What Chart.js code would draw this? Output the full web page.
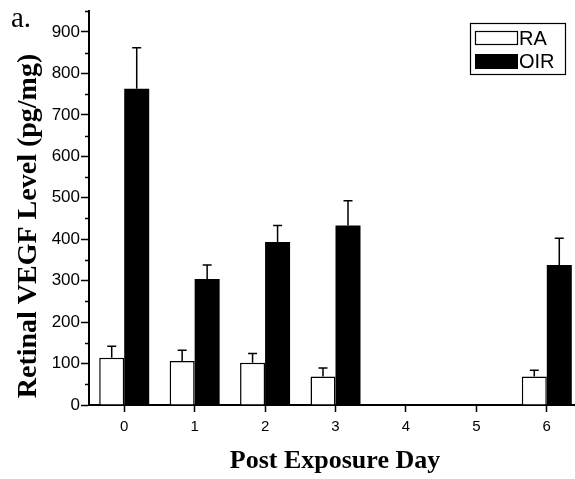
<!DOCTYPE html>
<html>
<head>
<meta charset="utf-8">
<script src="https://cdn.jsdelivr.net/npm/chart.js@4/dist/chart.umd.min.js"></script>
<style>
html,body{margin:0;padding:0;background:#fff;overflow:hidden;}
#wrap{width:575px;height:479px;overflow:hidden;position:relative;}
canvas{display:block;}
</style>
</head>
<body>
<div id="wrap"><canvas id="c" width="582" height="479"></canvas></div>
<script>
const days = ['0', '1', '2', '3', '4', '5', '6'];
const raValues = [114, 106, 102, 69, null, null, 69];
const raErrors = [28, 26, 22, 20, null, null, 15];
const oirValues = [763, 304, 393, 433, null, null, 338];
const oirErrors = [99, 34, 40, 60, null, null, 64];
const yTickValues = [0, 100, 200, 300, 400, 500, 600, 700, 800, 900];
const seriesNames = ['RA', 'OIR'];
const panelLabel = 'a.';
const xTitle = 'Post Exposure Day';
const yTitle = 'Retinal VEGF Level (pg/mg)';

const errorPlugin = {
  id: 'errs',
  afterDatasetsDraw(chart) {
    const ctx = chart.ctx;
    const y = chart.scales.y;
    const errs = [raErrors, oirErrors];
    ctx.save();
    ctx.strokeStyle = '#000';
    ctx.lineWidth = 1.5;
    chart.data.datasets.forEach((ds, di) => {
      const meta = chart.getDatasetMeta(di);
      meta.data.forEach((bar, i) => {
        const v = ds.data[i], e = errs[di][i];
        if (v == null || e == null) return;
        const x = bar.x;
        const y0 = y.getPixelForValue(v);
        const y1 = y.getPixelForValue(v + e);
        ctx.beginPath();
        ctx.moveTo(x, y0); ctx.lineTo(x, y1);
        ctx.moveTo(x - 4.5, y1); ctx.lineTo(x + 4.5, y1);
        ctx.stroke();
      });
    });
    ctx.restore();
  }
};

const decorPlugin = {
  id: 'decor',
  afterDraw(chart) {
    const ctx = chart.ctx;
    const y = chart.scales.y;
    const area = chart.chartArea;
    ctx.save();
    // minor ticks
    ctx.strokeStyle = '#000';
    ctx.lineWidth = 1.5;
    for (let v = 50; v <= 950; v += 100) {
      const py = Math.round(y.getPixelForValue(v)) + 0.5;
      ctx.beginPath();
      ctx.moveTo(area.left - 4, py); ctx.lineTo(area.left, py);
      ctx.stroke();
    }
    // legend
    ctx.lineWidth = 1.2;
    ctx.strokeRect(470.5, 23.5, 95, 51);
    ctx.fillStyle = '#fff';
    ctx.fillRect(475.5, 31.5, 42, 13);
    ctx.strokeRect(475.5, 31.5, 42, 13);
    ctx.fillStyle = '#000';
    ctx.fillRect(475, 54, 43, 15);
    ctx.font = '20px "Liberation Sans", Arial, sans-serif';
    ctx.textBaseline = 'middle';
    ctx.textAlign = 'left';
    ctx.fillText(seriesNames[0], 519, 39);
    ctx.fillText(seriesNames[1], 519, 62);
    // panel label
    ctx.font = '29px "Liberation Serif", "Times New Roman", serif';
    ctx.textBaseline = 'alphabetic';
    ctx.fillText(panelLabel, 11, 27);
    // x title
    ctx.font = 'bold 26px "Liberation Serif", "Times New Roman", serif';
    ctx.textAlign = 'center';
    ctx.textBaseline = 'alphabetic';
    ctx.fillText(xTitle, 335, 468);
    // y title
    ctx.translate(36, 226);
    ctx.rotate(-Math.PI / 2);
    ctx.font = 'bold 28px "Liberation Serif", "Times New Roman", serif';
    ctx.textBaseline = 'alphabetic';
    ctx.fillText(yTitle, 0, 0);
    ctx.restore();
  }
};

new Chart(document.getElementById('c'), {
  type: 'bar',
  data: {
    labels: days,
    datasets: [
      { label: seriesNames[0], data: raValues, backgroundColor: '#fff', borderColor: '#000', borderWidth: 1.5 },
      { label: seriesNames[1], data: oirValues, backgroundColor: '#000', borderColor: '#000', borderWidth: 0 }
    ]
  },
  options: {
    responsive: false,
    animation: false,
    devicePixelRatio: 1,
    layout: { padding: { top: 8, right: 0, left: 0, bottom: 0 } },
    datasets: { bar: { categoryPercentage: 0.71, barPercentage: 1.0 } },
    plugins: { legend: { display: false }, tooltip: { enabled: false } },
    scales: {
      x: {
        offset: true,
        grid: { display: true, drawOnChartArea: false, offset: false, tickLength: 7, tickWidth: 1.5, tickColor: '#000' },
        border: { color: '#000', width: 2 },
        ticks: { color: '#000', font: { family: '"Liberation Sans", Arial, sans-serif', size: 15 }, padding: 6, maxRotation: 0 },
        afterFit(s) { s.height = 74; }
      },
      y: {
        min: 0,
        max: 950,
        afterBuildTicks(s) { s.ticks = yTickValues.map(v => ({ value: v })); },
        grid: { display: true, drawOnChartArea: false, tickLength: 8, tickWidth: 1.5, tickColor: '#000' },
        border: { color: '#000', width: 2 },
        ticks: { color: '#000', font: { family: '"Liberation Sans", Arial, sans-serif', size: 17 }, padding: 1 },
        afterFit(s) { s.width = 89; }
      }
    }
  },
  plugins: [errorPlugin, decorPlugin]
});
</script>
</body>
</html>
